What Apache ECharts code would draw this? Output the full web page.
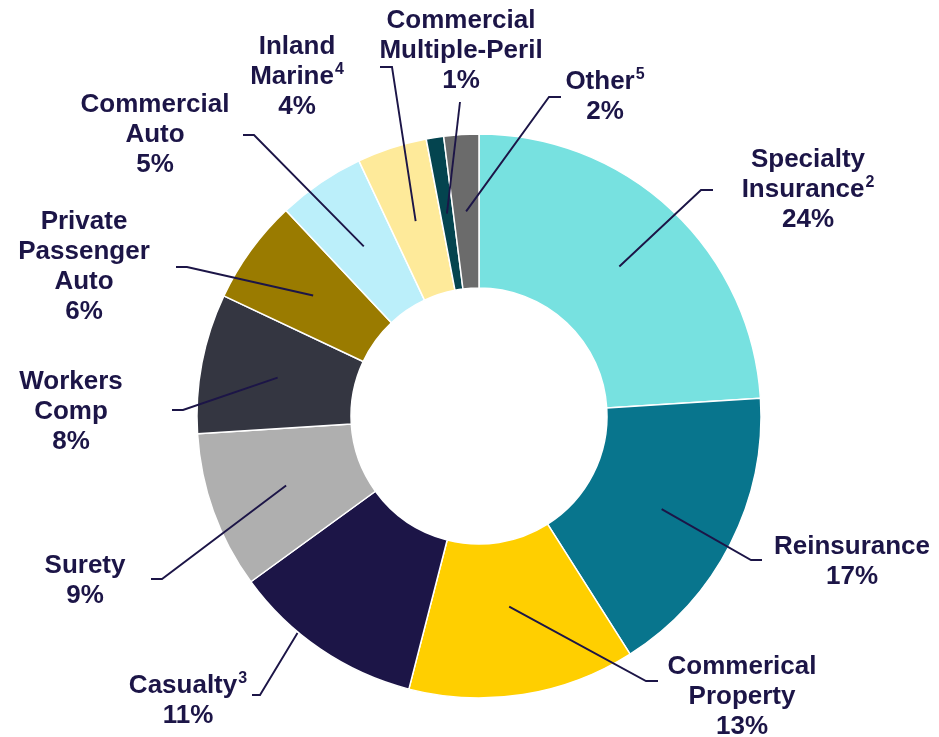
<!DOCTYPE html>
<html>
<head>
<meta charset="utf-8">
<script src="https://cdn.jsdelivr.net/npm/echarts@6/dist/echarts.min.js"></script>
<style>
  html, body { margin: 0; padding: 0; background: #fff; }
  #chart { width: 939px; height: 737px; }
</style>
</head>
<body>
<div id="chart"></div>
<script>
// data
const categories = ['Specialty\nInsurance', 'Reinsurance', 'Commerical\nProperty', 'Casualty', 'Surety',
  'Workers\nComp', 'Private\nPassenger\nAuto', 'Commercial\nAuto', 'Inland\nMarine',
  'Commercial\nMultiple-Peril', 'Other']
const footnotes = ['2', '', '', '3', '', '', '', '', '4', '', '5']
const shares = [24, 17, 13, 11, 9, 8, 6, 5, 4, 1, 2]

const colors = ['#77e1e0', '#08758d', '#ffcf00', '#1c1547', '#afafaf', '#343641',
  '#9a7b00', '#bbeffa', '#feea9a', '#04444f', '#6b6b6b']

// label layout: text centre x, first line centre y, elbow, end of leader
const labelText = [[808, 160], [852, 547], [742, 667], [188, 686], [85, 566], [71, 382],
  [84, 222], [155, 105], [297, 47], [461, 21], [605, 82]]
const leaderElbow = [[701, 190], [751, 560], [646, 681], [260, 695], [162, 579], [183, 410],
  [187, 267], [254, 135], [392, 67], [460, 102], [549, 97]]
const leaderEnd = [[713, 190], [762, 560], [658, 681], [252, 695], [151, 579], [172, 410],
  [176, 267], [243, 135], [380, 67], [460, 102], [561, 97]]
const leaderRadius = [205, 205, 193, 283, 205, 205, 205, 205, 205, 205, 205]
const leaderTurn = [0, 0, 0, 5.7, 0, 0, 0, 0, 0, 0, 0]

const cx = 479, cy = 416, rIn = 128, rOut = 282
const lineH = 30
const total = shares.reduce((a, b) => a + b, 0)
const font = 'Liberation Sans, Arial, sans-serif'

function midAngle(i) {
  let before = 0
  for (let k = 0; k < i; k++) before += shares[k]
  return (before + shares[i] / 2) / total * 360
}

function labelFormatter(p) {
  const i = p.dataIndex
  const lines = categories[i].split('\n')
  let last = lines.pop()
  if (footnotes[i]) last = last + '{s|' + footnotes[i] + '}'
  lines.push(last)
  return lines.join('\n') + '\n' + shares[i] + '%'
}

const pieBase = {
  type: 'pie',
  center: [cx, cy],
  radius: [rIn, rOut],
  startAngle: 90,
  clockwise: true,
  avoidLabelOverlap: false
}

const chart = echarts.init(document.getElementById('chart'))

chart.setOption({
  animation: false,
  series: [
    Object.assign({}, pieBase, {
      z: 2,
      data: shares.map((v, i) => ({
        name: categories[i],
        value: v,
        itemStyle: { color: colors[i] }
      })),
      itemStyle: { borderColor: '#fff', borderWidth: 1.5 },
      label: { show: false },
      labelLine: { show: false }
    }),
    // transparent copy that carries the labels, so leaders sit above the ring
    Object.assign({}, pieBase, {
      z: 5,
      silent: true,
      data: shares.map((v, i) => ({ name: categories[i], value: v })),
      itemStyle: { color: 'rgba(0,0,0,0)' },
      label: {
        show: true,
        position: 'outside',
        formatter: labelFormatter,
        color: '#1c1547',
        fontFamily: font,
        fontWeight: 'bold',
        fontSize: 26,
        lineHeight: lineH,
        align: 'center',
        rich: {
          s: {
            color: '#1c1547',
            fontFamily: font,
            fontWeight: 'bold',
            fontSize: 16,
            lineHeight: lineH,
            verticalAlign: 'top',
            padding: [0, 0, 10, 1]
          }
        }
      },
      labelLine: {
        show: true,
        lineStyle: { color: '#1c1547', width: 1.9 }
      },
      labelLayout: function (params) {
        const i = params.dataIndex
        const a = (midAngle(i) + leaderTurn[i]) * Math.PI / 180
        const r = leaderRadius[i]
        const start = [cx + r * Math.sin(a), cy - r * Math.cos(a)]
        return {
          x: labelText[i][0],
          y: labelText[i][1] - lineH / 2,
          align: 'center',
          verticalAlign: 'top',
          labelLinePoints: [start, leaderElbow[i], leaderEnd[i]]
        }
      }
    })
  ]
})
</script>
</body>
</html>
